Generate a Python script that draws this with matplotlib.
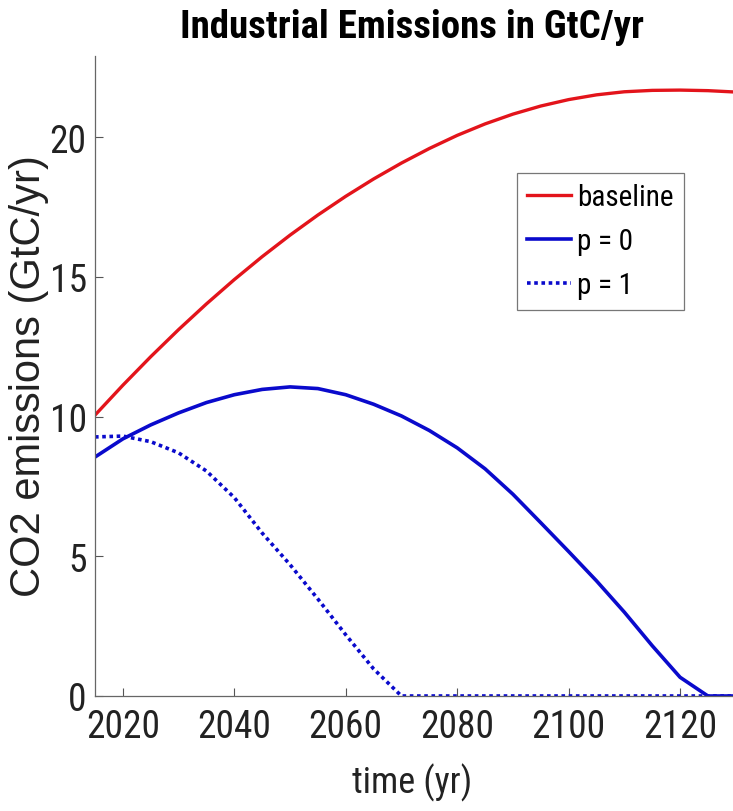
import numpy as np
import matplotlib
matplotlib.use("Agg")
import matplotlib.pyplot as plt
from matplotlib import font_manager

# ---------------------------------------------------------------------
# Emission paths (GtC/yr) at 5-year steps
# ---------------------------------------------------------------------
years = np.arange(2015, 2131, 5)
baseline = [10.05, 11.12, 12.14, 13.11, 14.03, 14.9, 15.72, 16.49, 17.21, 17.88,
            18.5, 19.07, 19.59, 20.06, 20.47, 20.82, 21.11, 21.34, 21.51, 21.62,
            21.67, 21.68, 21.66, 21.61]
p0 = [8.55, 9.2, 9.7, 10.13, 10.5, 10.78, 10.97, 11.06, 11.0, 10.78,
      10.44, 10.02, 9.5, 8.88, 8.13, 7.22, 6.2, 5.17, 4.12, 3.0,
      1.8, 0.67, 0.0, 0.0]
p1 = [9.27, 9.3, 9.1, 8.7, 8.05, 7.1, 5.83, 4.7, 3.47, 2.19,
      0.97, 0.0, 0.0, 0.0, 0.0, 0.0, 0.0, 0.0, 0.0, 0.0,
      0.0, 0.0, 0.0, 0.0]
xticks = [2020, 2040, 2060, 2080, 2100, 2120]
yticks = [0, 5, 10, 15, 20]

# reference text is a condensed Helvetica; use a narrow face if there is one
have = {f.name for f in font_manager.fontManager.ttflist}
narrow = [n for n in ["Liberation Sans Narrow", "Roboto Condensed", "Arial Narrow"] if n in have]
if narrow:
    NARROW, K = [narrow[0], "DejaVu Sans"], 1.0
else:
    NARROW, K = ["Liberation Sans", "DejaVu Sans"], 0.82
REG = ["Liberation Sans", "DejaVu Sans"]
RED, BLUE = "#e3141b", "#0a0acc"

fig = plt.figure(figsize=(7.33, 8.12), dpi=100)
ax = fig.add_axes([95 / 733, 1 - 697 / 812, 638 / 733, 640 / 812])

ax.plot(years, baseline, color=RED, lw=2.4, label="baseline")
ax.plot(years, p0, color=BLUE, lw=2.6, label="p = 0")
ax.plot(years, p1, color=BLUE, lw=2.6, ls=(0, (1, 1)), label="p = 1")

ax.set_xlim(2015, 2129.5)
ax.set_ylim(0, 22.9)
ax.set_xticks(xticks)
ax.set_yticks(yticks)
ax.tick_params(direction="in", length=6, width=0.8, color="#555555",
               labelsize=27 * K, labelcolor="#222222")
ax.tick_params(axis="x", pad=9)
ax.tick_params(axis="y", pad=6)
for lbl in ax.get_xticklabels() + ax.get_yticklabels():
    lbl.set_family(NARROW)

for s in ["top", "right"]:
    ax.spines[s].set_visible(False)
for s in ["left", "bottom"]:
    ax.spines[s].set_color("#666666")
    ax.spines[s].set_linewidth(0.9)

fig.text(412 / 733, 1 - 28 / 812, "Industrial Emissions in GtC/yr",
         family=NARROW, fontweight="bold", fontsize=28 * K, ha="center", va="center")
fig.text(412 / 733, 1 - 783 / 812, "time (yr)", family=NARROW, fontsize=26 * K,
         color="#222222", ha="center", va="center")
fig.text(29 / 733, 1 - 376 / 812, "CO2 emissions (GtC/yr)", family=REG, fontsize=30,
         color="#222222", ha="center", va="center", rotation=90)

leg = ax.legend(loc="upper left", bbox_to_anchor=(517 / 733, 1 - 174 / 812),
                bbox_transform=fig.transFigure, prop={"family": NARROW, "size": 21 * K},
                frameon=True, fancybox=False, framealpha=1, edgecolor="#777777",
                handlelength=1.5 / K, handletextpad=0.2, borderpad=0.35,
                labelspacing=0.55 / K, borderaxespad=0)
leg.get_frame().set_linewidth(0.9)

fig.savefig("out.png", dpi=100)
